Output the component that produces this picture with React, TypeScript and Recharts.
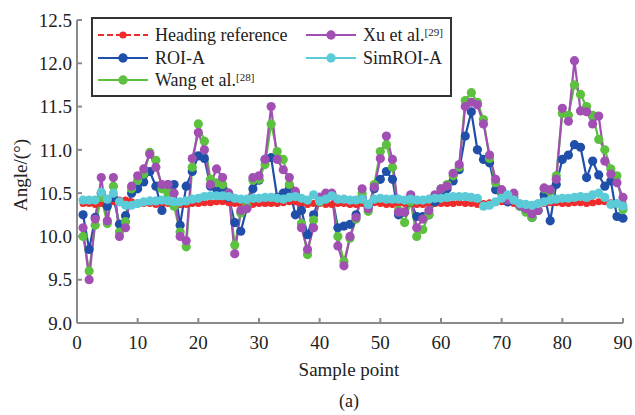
import React from 'react';
import { LineChart, Line, XAxis, YAxis } from 'recharts';

const samplePoints: number[] = Array.from({ length: 90 }, (_, i) => i + 1);

const headingRef: number[] = [
  10.38, 10.38, 10.37, 10.38, 10.39, 10.40, 10.42, 10.42, 10.40, 10.39,
  10.38, 10.38, 10.37, 10.37, 10.38, 10.38, 10.37, 10.37, 10.38, 10.38,
  10.39, 10.39, 10.40, 10.40, 10.39, 10.38, 10.37, 10.37, 10.37, 10.38,
  10.38, 10.38, 10.38, 10.39, 10.40, 10.40, 10.38, 10.37, 10.38, 10.38,
  10.37, 10.37, 10.38, 10.38, 10.37, 10.37, 10.38, 10.38, 10.39, 10.38,
  10.37, 10.37, 10.38, 10.38, 10.38, 10.37, 10.37, 10.38, 10.38, 10.38,
  10.38, 10.38, 10.39, 10.38, 10.38, 10.37, 10.38, 10.39, 10.39, 10.40,
  10.39, 10.38, 10.38, 10.37, 10.37, 10.38, 10.38, 10.39, 10.39, 10.38,
  10.38, 10.39, 10.39, 10.38, 10.39, 10.40, 10.40, 10.39, 10.38, 10.38,
];

const roiA: number[] = [
  10.25, 9.85, 10.22, 10.50, 10.35, 10.45, 10.14, 10.24, 10.50, 10.55,
  10.63, 10.75, 10.58, 10.30, 10.60, 10.60, 10.13, 10.58, 10.75, 10.93,
  10.90, 10.58, 10.55, 10.54, 10.45, 10.16, 10.06, 10.33, 10.55, 10.65,
  10.89, 10.91, 10.45, 10.50, 10.55, 10.25, 10.30, 10.02, 10.25, 10.45,
  10.45, 10.48, 10.10, 10.12, 10.14, 10.25, 10.45, 10.34, 10.55, 10.66,
  10.75, 10.66, 10.25, 10.28, 10.40, 10.23, 10.23, 10.25, 10.40, 10.45,
  10.55, 10.64, 10.77, 11.16, 11.44, 11.00, 10.89, 10.85, 10.54, 10.50,
  10.40, 10.45, 10.35, 10.30, 10.22, 10.30, 10.48, 10.18, 10.60, 10.89,
  10.94, 11.06, 11.03, 10.68, 10.87, 10.71, 10.58, 10.64, 10.23, 10.21,
];

const wang: number[] = [
  10.00, 9.60, 10.13, 10.45, 10.15, 10.58, 10.05, 10.17, 10.55, 10.65,
  10.72, 10.97, 10.88, 10.55, 10.50, 10.35, 10.05, 9.88, 10.80, 11.30,
  11.10, 10.66, 10.62, 10.60, 10.50, 9.90, 10.27, 10.35, 10.65, 10.66,
  10.83, 11.30, 10.98, 10.89, 10.60, 10.50, 10.15, 9.79, 10.19, 10.40,
  10.45, 10.48, 10.00, 9.71, 9.98, 10.20, 10.50, 10.29, 10.60, 10.98,
  11.06, 10.80, 10.30, 10.16, 10.40, 10.00, 10.08, 10.25, 10.45, 10.55,
  10.60, 10.70, 10.80, 11.57, 11.66, 11.55, 11.35, 10.90, 10.62, 10.52,
  10.45, 10.48, 10.35, 10.28, 10.22, 10.30, 10.55, 10.52, 10.70, 11.42,
  11.40, 11.75, 11.64, 11.50, 11.40, 11.12, 11.00, 10.78, 10.70, 10.31,
];

const xu: number[] = [
  10.10, 9.50, 10.20, 10.68, 10.18, 10.68, 10.00, 10.10, 10.58, 10.70,
  10.78, 10.95, 10.80, 10.60, 10.60, 10.50, 10.00, 9.95, 10.90, 11.20,
  11.00, 10.60, 10.78, 10.68, 10.50, 9.80, 10.30, 10.32, 10.68, 10.70,
  10.89, 11.50, 10.89, 10.77, 10.68, 10.52, 10.10, 9.85, 10.10, 10.45,
  10.50, 10.50, 9.89, 9.66, 10.00, 10.22, 10.55, 10.32, 10.57, 10.90,
  11.16, 10.89, 10.28, 10.28, 10.48, 10.10, 10.20, 10.30, 10.48, 10.55,
  10.58, 10.73, 10.83, 11.50, 11.55, 11.52, 11.30, 10.94, 10.66, 10.54,
  10.42, 10.50, 10.36, 10.32, 10.26, 10.30, 10.56, 10.54, 10.66, 11.48,
  11.33, 12.03, 11.45, 11.44, 11.30, 11.39, 10.87, 10.72, 10.62, 10.45,
];

const simRoiA: number[] = [
  10.42, 10.42, 10.42, 10.51, 10.43, 10.50, 10.40, 10.36, 10.36, 10.38,
  10.40, 10.41, 10.41, 10.42, 10.41, 10.40, 10.40, 10.41, 10.43, 10.44,
  10.46, 10.47, 10.47, 10.47, 10.46, 10.44, 10.43, 10.43, 10.44, 10.44,
  10.45, 10.45, 10.44, 10.43, 10.45, 10.46, 10.44, 10.42, 10.48, 10.41,
  10.43, 10.47, 10.43, 10.43, 10.42, 10.42, 10.43, 10.37, 10.43, 10.44,
  10.43, 10.43, 10.43, 10.42, 10.43, 10.42, 10.42, 10.43, 10.44, 10.44,
  10.45, 10.46, 10.46, 10.46, 10.45, 10.44, 10.35, 10.36, 10.40, 10.44,
  10.48, 10.42, 10.38, 10.37, 10.36, 10.38, 10.40, 10.42, 10.43, 10.44,
  10.44, 10.45, 10.46, 10.45, 10.48, 10.50, 10.45, 10.37, 10.38, 10.35,
];

const xTicks: number[] = [0, 10, 20, 30, 40, 50, 60, 70, 80, 90];
const yTicks: number[] = [9.0, 9.5, 10.0, 10.5, 11.0, 11.5, 12.0, 12.5];

const data = samplePoints.map((x, i) => ({
  x,
  heading: headingRef[i],
  roi: roiA[i],
  wang: wang[i],
  xu: xu[i],
  sim: simRoiA[i],
}));

const FONT = '"Liberation Serif", "Times New Roman", serif';
const C_RED = '#ee2a2a';
const C_BLUE = '#1f4fa8';
const C_GREEN = '#5cc13e';
const C_PURPLE = '#a24fb4';
const C_CYAN = '#5ccbd8';

const LegendIcon = ({ color, dashed, r }: { color: string; dashed?: boolean; r: number }) => (
  <svg width={52} height={12} style={{ display: 'block' }}>
    <line x1={1} y1={6} x2={51} y2={6} stroke={color} strokeWidth={2.2} strokeDasharray={dashed ? '6 3' : undefined} />
    <circle cx={26} cy={6} r={r} fill={color} />
  </svg>
);

const LegendRow = ({ left, top, color, dashed, r, children }: any) => (
  <div style={{ position: 'absolute', left, top, display: 'flex', alignItems: 'center', height: 22 }}>
    <LegendIcon color={color} dashed={dashed} r={r} />
    <span style={{ marginLeft: 6, fontFamily: FONT, fontSize: 18, color: '#222', whiteSpace: 'nowrap', lineHeight: '22px' }}>{children}</span>
  </div>
);

const supStyle: React.CSSProperties = { fontSize: 11, verticalAlign: 'top', position: 'relative', top: -3 };

const ChartLegend = () => (
  <div style={{ position: 'absolute', left: 91, top: 17, width: 361, height: 80, boxSizing: 'border-box', border: '2px solid #333', background: '#fff' }}>
    <LegendRow left={4} top={5} color={C_RED} dashed r={3.6}>Heading reference</LegendRow>
    <LegendRow left={4} top={28} color={C_BLUE} r={4.7}>ROI-A</LegendRow>
    <LegendRow left={4} top={50} color={C_GREEN} r={4.7}>Wang et al.<span style={supStyle}>[28]</span></LegendRow>
    <LegendRow left={212} top={5} color={C_PURPLE} r={4.7}>Xu et al.<span style={supStyle}>[29]</span></LegendRow>
    <LegendRow left={212} top={28} color={C_CYAN} r={4.7}>SimROI-A</LegendRow>
  </div>
);

const YLabel = () => (
  <text x={20} y={175} transform="rotate(-90 20 175)" textAnchor="middle" dominantBaseline="central" style={{ fontFamily: FONT }} fontSize={19} fill="#222">
    Angle/(°)
  </text>
);

const XLabel = () => (
  <g>
    <text x={349} y={376} textAnchor="middle" style={{ fontFamily: FONT }} fontSize={19} fill="#222">Sample point</text>
    <text x={349} y={407} textAnchor="middle" style={{ fontFamily: FONT }} fontSize={18} fill="#222">(a)</text>
  </g>
);

const dotFor = (c: string, r: number) => ({ r, fill: c, stroke: c, strokeWidth: 0 });

const tickStyle = { fontSize: 19, fill: '#222', style: { fontFamily: FONT } };

export default function App() {
  return (
    <div style={{ position: 'absolute', left: 0, top: 0, width: 635, height: 415, background: '#fff', fontFamily: FONT }}>
      <LineChart width={635} height={415} data={data} margin={{ top: 20, right: 12, left: 0, bottom: 62 }} style={{ fontFamily: FONT }}>
        <XAxis
          dataKey="x"
          type="number"
          domain={[0, 90]}
          ticks={xTicks}
          interval={0}
          height={30}
          stroke="#8a8a8a"
          strokeWidth={2}
          tickSize={-5}
          tickMargin={18}
          tick={tickStyle}
          label={<XLabel />}
        />
        <YAxis
          type="number"
          domain={[9, 12.5]}
          ticks={yTicks}
          interval={0}
          width={77}
          stroke="#8a8a8a"
          strokeWidth={2}
          tickSize={-5}
          tickMargin={10}
          tickFormatter={(v: number) => v.toFixed(1)}
          tick={tickStyle}
          label={<YLabel />}
        />
        <Line type="linear" dataKey="heading" stroke={C_RED} strokeWidth={2.5} strokeDasharray="6 3" dot={dotFor(C_RED, 3.5)} isAnimationActive={false} />
        <Line type="linear" dataKey="roi" stroke={C_BLUE} strokeWidth={2.2} dot={dotFor(C_BLUE, 4.6)} isAnimationActive={false} />
        <Line type="linear" dataKey="wang" stroke={C_GREEN} strokeWidth={2.2} dot={dotFor(C_GREEN, 4.6)} isAnimationActive={false} />
        <Line type="linear" dataKey="xu" stroke={C_PURPLE} strokeWidth={2.2} dot={dotFor(C_PURPLE, 4.6)} isAnimationActive={false} />
        <Line type="linear" dataKey="sim" stroke={C_CYAN} strokeWidth={2.2} dot={dotFor(C_CYAN, 4.6)} isAnimationActive={false} />
      </LineChart>
      <ChartLegend />
    </div>
  );
}
